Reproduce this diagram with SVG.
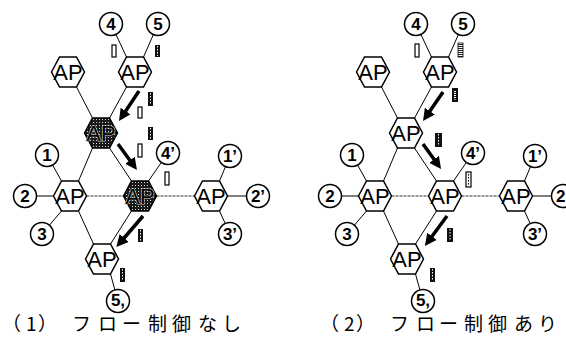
<svg xmlns="http://www.w3.org/2000/svg" width="566" height="346" viewBox="0 0 566 346">
  <style>
    .hex { fill: #fff; stroke: #000; stroke-width: 1.5; }
    .hex-busy { fill: url(#stipple); stroke: #000; stroke-width: 1.5; }
    .ap { font-family: "Liberation Sans", Arial, sans-serif; font-size: 22px; text-anchor: middle; fill: #000; }
    .ap-busy { font-family: "Liberation Sans", Arial, sans-serif; font-size: 22px; text-anchor: middle; fill: #000; stroke: #ccc; stroke-width: 1.2; paint-order: stroke; }
    .term { fill: #fff; stroke: #000; stroke-width: 1.5; }
    .num { font-family: "Liberation Sans", Arial, sans-serif; font-size: 17px; font-weight: bold; text-anchor: middle; fill: #000; }
    .link { stroke: #000; stroke-width: 1; fill: none; }
    .trunk { stroke: #333; stroke-width: 1; stroke-dasharray: 3 1; fill: none; }
    .flow { stroke: #000; stroke-width: 3.5; fill: none; marker-end: url(#head); }
    .q-empty { fill: #fff; stroke: #000; stroke-width: 1.2; }
    .q-full { fill: #111; }
    .q-dots { stroke: #fff; stroke-width: 1; stroke-dasharray: 1.5 1.5; }
    .q-hatch { fill: url(#hstripe); stroke: #000; stroke-width: 0.8; }
    .caption { font-family: "Noto Sans CJK JP", "Noto Sans", sans-serif; font-size: 19px; fill: #000; }
  </style>
  <defs>
    <path id="hexshape" d="M-16.5,0 L-8.5,-15 L8.5,-15 L16.5,0 L8.5,15 L-8.5,15 Z"/>
    <pattern id="stipple" width="3" height="3" patternUnits="userSpaceOnUse">
      <rect width="3" height="3" fill="#1a1a1a"/>
      <rect x="1" y="1" width="1" height="1" fill="#d8d8d8"/>
    </pattern>
    <pattern id="hstripe" width="4" height="2" patternUnits="userSpaceOnUse">
      <rect width="4" height="2" fill="#fff"/>
      <rect width="4" height="1" fill="#222"/>
    </pattern>
    <marker id="head" viewBox="0 0 12 12" refX="8" refY="6" markerWidth="12" markerHeight="12" markerUnits="userSpaceOnUse" orient="auto">
      <path d="M0,0 L12,6 L0,12 Z" fill="#000"/>
    </marker>
  </defs>

  <!-- ===== Panel 1: without flow control ===== -->
  <g id="panel1">
    <g id="p1-connectors">
      <line class="link" x1="76.5" y1="87" x2="92.5" y2="118"/>
      <line class="link" x1="126.5" y1="87" x2="109.5" y2="118"/>
      <line class="link" x1="92.5" y1="148" x2="78.5" y2="181"/>
      <line class="link" x1="109.5" y1="148" x2="131.5" y2="181"/>
      <line class="trunk" x1="86.5" y1="196" x2="123.5" y2="196"/>
      <line class="trunk" x1="156.5" y1="196" x2="194.5" y2="196"/>
      <line class="link" x1="78.5" y1="211" x2="93.5" y2="244"/>
      <line class="link" x1="131.5" y1="211" x2="110.5" y2="244"/>
      <line class="link" x1="126.5" y1="57" x2="115.9" y2="34.4"/>
      <line class="link" x1="143.5" y1="57" x2="153.4" y2="34.5"/>
      <line class="link" x1="61.5" y1="181" x2="52.6" y2="165"/>
      <line class="link" x1="36.5" y1="196" x2="53.5" y2="196"/>
      <line class="link" x1="61.5" y1="211" x2="49.4" y2="225.2"/>
      <line class="link" x1="148.5" y1="181" x2="161.4" y2="162.4"/>
      <line class="link" x1="219.5" y1="181" x2="225.5" y2="166.6"/>
      <line class="link" x1="227.5" y1="196" x2="246.5" y2="196"/>
      <line class="link" x1="219.5" y1="211" x2="225.2" y2="223.5"/>
      <line class="link" x1="110.5" y1="274" x2="114.9" y2="289.9"/>
      <!-- traffic arrows -->
      <line class="flow" x1="139" y1="91" x2="121.2" y2="117.7"/>
      <line class="flow" x1="118" y1="144" x2="134.6" y2="166.8"/>
      <line class="flow" x1="143" y1="216" x2="119" y2="244"/>
    </g>

    <g id="p1-ap1"><use href="#hexshape" class="hex" x="68" y="72"/><text class="ap" x="68" y="80">AP</text></g>
    <g id="p1-ap2"><use href="#hexshape" class="hex" x="135" y="72"/><text class="ap" x="135" y="80">AP</text></g>
    <g id="p1-ap3"><use href="#hexshape" class="hex-busy" x="101" y="133"/><text class="ap-busy" x="101" y="141">AP</text></g>
    <g id="p1-ap4"><use href="#hexshape" class="hex" x="70" y="196"/><text class="ap" x="70" y="204">AP</text></g>
    <g id="p1-ap5"><use href="#hexshape" class="hex-busy" x="140" y="196"/><text class="ap-busy" x="140" y="204">AP</text></g>
    <g id="p1-ap6"><use href="#hexshape" class="hex" x="211" y="196"/><text class="ap" x="211" y="204">AP</text></g>
    <g id="p1-ap7"><use href="#hexshape" class="hex" x="102" y="259"/><text class="ap" x="102" y="267">AP</text></g>

    <g id="p1-t4"><circle class="term" cx="111" cy="24" r="11.5"/><text class="num" x="111" y="30">4</text></g>
    <g id="p1-t5"><circle class="term" cx="158" cy="24" r="11.5"/><text class="num" x="158" y="30">5</text></g>
    <g id="p1-t1"><circle class="term" cx="47" cy="155" r="11.5"/><text class="num" x="47" y="161">1</text></g>
    <g id="p1-t2"><circle class="term" cx="25" cy="196" r="11.5"/><text class="num" x="25" y="202">2</text></g>
    <g id="p1-t3"><circle class="term" cx="42" cy="234" r="11.5"/><text class="num" x="42" y="240">3</text></g>
    <g id="p1-t4p"><circle class="term" cx="168" cy="153" r="11.5"/><text class="num" x="168" y="159">4’</text></g>
    <g id="p1-t1p"><circle class="term" cx="230" cy="156" r="11.5"/><text class="num" x="230" y="162">1’</text></g>
    <g id="p1-t2p"><circle class="term" cx="258" cy="196" r="11.5"/><text class="num" x="258" y="202">2’</text></g>
    <g id="p1-t3p"><circle class="term" cx="230" cy="234" r="11.5"/><text class="num" x="230" y="240">3’</text></g>
    <g id="p1-t5p"><circle class="term" cx="118" cy="301" r="11.5"/><text class="num" x="118" y="306">5,</text></g>

    <g id="p1-queues">
      <rect class="q-empty" x="112" y="45" width="4" height="12"/>
      <rect class="q-full" x="155" y="45" width="5" height="12"/><line class="q-dots" x1="157.5" y1="46" x2="157.5" y2="56"/>
      <rect class="q-full" x="148" y="92" width="5" height="14"/><line class="q-dots" x1="150.5" y1="93" x2="150.5" y2="105"/>
      <rect class="q-empty" x="138" y="107" width="4" height="11"/>
      <rect class="q-full" x="148" y="127" width="5" height="13"/><line class="q-dots" x1="150.5" y1="128" x2="150.5" y2="139"/>
      <rect class="q-empty" x="138" y="144" width="4" height="13"/>
      <rect class="q-empty" x="165" y="172" width="4" height="13"/>
      <rect class="q-full" x="138" y="229" width="5" height="13"/><line class="q-dots" x1="140.5" y1="230" x2="140.5" y2="241"/>
      <rect class="q-full" x="120" y="268" width="5" height="14"/><line class="q-dots" x1="122.5" y1="269" x2="122.5" y2="281"/>
    </g>

    <text class="caption" x="2 26 38 72 98 122 148 172 198 222" y="331">（1）フロー制御なし</text>
  </g>

  <!-- ===== Panel 2: with flow control ===== -->
  <g id="panel2" transform="translate(305,0)">
    <g id="p2-connectors">
      <line class="link" x1="76.5" y1="87" x2="92.5" y2="118"/>
      <line class="link" x1="126.5" y1="87" x2="109.5" y2="118"/>
      <line class="link" x1="92.5" y1="148" x2="78.5" y2="181"/>
      <line class="link" x1="109.5" y1="148" x2="131.5" y2="181"/>
      <line class="trunk" x1="86.5" y1="196" x2="123.5" y2="196"/>
      <line class="trunk" x1="156.5" y1="196" x2="194.5" y2="196"/>
      <line class="link" x1="78.5" y1="211" x2="93.5" y2="244"/>
      <line class="link" x1="131.5" y1="211" x2="110.5" y2="244"/>
      <line class="link" x1="126.5" y1="57" x2="115.9" y2="34.4"/>
      <line class="link" x1="143.5" y1="57" x2="153.4" y2="34.5"/>
      <line class="link" x1="61.5" y1="181" x2="52.6" y2="165"/>
      <line class="link" x1="36.5" y1="196" x2="53.5" y2="196"/>
      <line class="link" x1="61.5" y1="211" x2="49.4" y2="225.2"/>
      <line class="link" x1="148.5" y1="181" x2="161.4" y2="162.4"/>
      <line class="link" x1="219.5" y1="181" x2="225.5" y2="166.6"/>
      <line class="link" x1="227.5" y1="196" x2="246.5" y2="196"/>
      <line class="link" x1="219.5" y1="211" x2="225.2" y2="223.5"/>
      <line class="link" x1="110.5" y1="274" x2="114.9" y2="289.9"/>
      <!-- traffic arrows -->
      <line class="flow" x1="138" y1="92" x2="120.3" y2="117.7"/>
      <line class="flow" x1="118" y1="144" x2="133.7" y2="165.8"/>
      <line class="flow" x1="142" y1="216" x2="122.3" y2="242.7"/>
    </g>

    <g id="p2-ap1"><use href="#hexshape" class="hex" x="68" y="72"/><text class="ap" x="68" y="80">AP</text></g>
    <g id="p2-ap2"><use href="#hexshape" class="hex" x="135" y="72"/><text class="ap" x="135" y="80">AP</text></g>
    <g id="p2-ap3"><use href="#hexshape" class="hex" x="101" y="133"/><text class="ap" x="101" y="141">AP</text></g>
    <g id="p2-ap4"><use href="#hexshape" class="hex" x="70" y="196"/><text class="ap" x="70" y="204">AP</text></g>
    <g id="p2-ap5"><use href="#hexshape" class="hex" x="140" y="196"/><text class="ap" x="140" y="204">AP</text></g>
    <g id="p2-ap6"><use href="#hexshape" class="hex" x="211" y="196"/><text class="ap" x="211" y="204">AP</text></g>
    <g id="p2-ap7"><use href="#hexshape" class="hex" x="102" y="259"/><text class="ap" x="102" y="267">AP</text></g>

    <g id="p2-t4"><circle class="term" cx="111" cy="24" r="11.5"/><text class="num" x="111" y="30">4</text></g>
    <g id="p2-t5"><circle class="term" cx="158" cy="24" r="11.5"/><text class="num" x="158" y="30">5</text></g>
    <g id="p2-t1"><circle class="term" cx="47" cy="155" r="11.5"/><text class="num" x="47" y="161">1</text></g>
    <g id="p2-t2"><circle class="term" cx="25" cy="196" r="11.5"/><text class="num" x="25" y="202">2</text></g>
    <g id="p2-t3"><circle class="term" cx="42" cy="234" r="11.5"/><text class="num" x="42" y="240">3</text></g>
    <g id="p2-t4p"><circle class="term" cx="168" cy="153" r="11.5"/><text class="num" x="168" y="159">4’</text></g>
    <g id="p2-t1p"><circle class="term" cx="230" cy="156" r="11.5"/><text class="num" x="230" y="162">1’</text></g>
    <g id="p2-t2p"><circle class="term" cx="258" cy="196" r="11.5"/><text class="num" x="258" y="202">2’</text></g>
    <g id="p2-t3p"><circle class="term" cx="230" cy="234" r="11.5"/><text class="num" x="230" y="240">3’</text></g>
    <g id="p2-t5p"><circle class="term" cx="118" cy="301" r="11.5"/><text class="num" x="118" y="306">5,</text></g>

    <g id="p2-queues">
      <rect class="q-empty" x="110" y="44" width="4" height="13"/>
      <rect class="q-hatch" x="153" y="43" width="5" height="14"/>
      <rect class="q-full" x="147" y="88" width="6" height="14"/><rect class="q-hatch" x="148.5" y="90" width="3" height="10"/>
      <rect class="q-full" x="130" y="133" width="7" height="14"/><line class="q-dots" x1="133.5" y1="134" x2="133.5" y2="146"/>
      <rect class="q-empty" x="161" y="172" width="5" height="15"/><line class="q-dots" x1="163.5" y1="174" x2="163.5" y2="185" style="stroke:#000"/>
      <rect class="q-full" x="142" y="228" width="6" height="14"/><line class="q-dots" x1="145" y1="229" x2="145" y2="241"/>
      <rect class="q-full" x="125" y="268" width="5" height="14"/><line class="q-dots" x1="127.5" y1="269" x2="127.5" y2="281"/>
    </g>

    <text class="caption" x="15 39 51 85 111 134 159 183 209 233" y="331">（2）フロー制御あり</text>
  </g>
</svg>
